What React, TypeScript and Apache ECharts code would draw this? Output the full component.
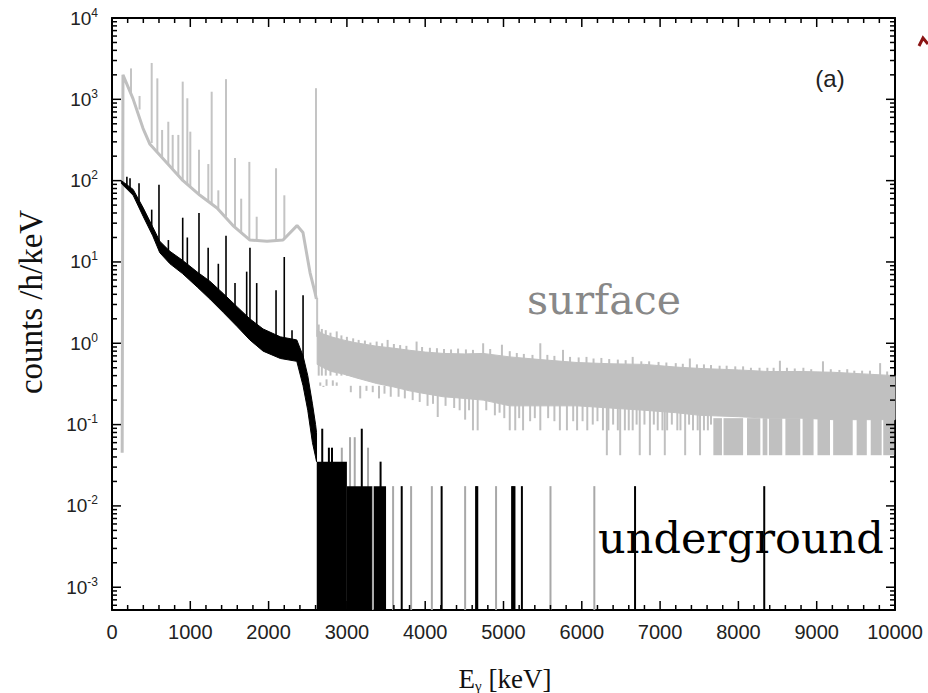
import { useEffect, useRef } from 'react';
import * as echarts from 'echarts';

// ---------- axes ----------
const X_LABELS = [0, 1000, 2000, 3000, 4000, 5000, 6000, 7000, 8000, 9000, 10000];
const X_MINOR_STEP = 200;
const Y_DECADES = [-3, -2, -1, 0, 1, 2, 3, 4];
const Y_MIN = -3.28;
const Y_MAX = 4;

// ---------- surface spectrum (grey) ----------
const surfContE = [130, 132, 140, 268, 396, 485, 702, 907, 1124, 1341, 1545, 1762, 1980, 2184, 2363, 2439, 2529, 2593, 2610];
const surfContV = [0.045, 0.045, 2000, 1020, 440, 280, 165, 100, 66, 46, 28, 18.6, 18, 18.6, 28, 23, 7.4, 4.2, 3.5];

// peaks: [energy, base, top]
const surfPeaks = [
  [243, 1150, 2400], [352, 750, 1100], [507, 290, 2800], [579, 230, 1810], [640, 190, 420],
  [719, 160, 530], [775, 140, 365], [847, 115, 365], [903, 100, 1650], [962, 90, 1030],
  [1000, 85, 400], [1111, 68, 240], [1230, 55, 160], [1273, 52, 1240], [1358, 45, 76],
  [1456, 36, 1770], [1571, 27, 190], [1650, 23, 60], [1754, 19, 170], [1848, 18, 36],
  [2095, 18, 142], [2201, 19, 66], [2605, 3.6, 1370], [2620, 1.2, 3.6],
];

// noise band above the 2614 keV line: envelope
const surfBandE = [2620, 2700, 2800, 2950, 3100, 3380, 3600, 3800, 4000, 4230, 4500, 4740, 5080, 5470, 5940, 6360, 6800, 7200, 7510, 8000, 8370, 8800, 9210, 9600, 10000];
const surfBandHi = [1.45, 1.3, 1.2, 1.1, 1.02, 0.92, 0.87, 0.82, 0.78, 0.75, 0.74, 0.75, 0.68, 0.63, 0.58, 0.56, 0.55, 0.51, 0.49, 0.47, 0.45, 0.45, 0.44, 0.42, 0.4];
const surfBandLo = [0.55, 0.5, 0.45, 0.42, 0.38, 0.32, 0.29, 0.26, 0.24, 0.22, 0.21, 0.2, 0.17, 0.17, 0.17, 0.16, 0.15, 0.14, 0.13, 0.125, 0.12, 0.12, 0.115, 0.115, 0.115];

// single channels sticking up out of the band: [energy, top]
const surfUpSpikes = [
  [2640, 1.7], [2680, 1.5], [2730, 1.45], [2790, 1.35], [2870, 1.4], [2930, 1.25], [3000, 1.2],
  [3080, 1.15], [3150, 1.1], [3230, 1.08], [3300, 1.02], [3380, 1.05], [3450, 1.0], [3520, 1.1],
  [3600, 0.98], [3680, 0.95], [3760, 0.93], [3890, 1.05], [3960, 0.9], [4060, 0.88], [4150, 0.87],
  [4240, 0.85], [4330, 0.84], [4420, 0.86], [4520, 0.84], [4610, 0.83], [4740, 1.0], [4830, 0.85],
  [4980, 0.96], [5080, 0.8], [5170, 0.76], [5260, 0.74], [5370, 0.72], [5470, 1.0], [5560, 0.72],
  [5650, 0.7], [5760, 0.83], [5850, 0.68], [5960, 0.67], [6060, 0.68], [6150, 0.65], [6250, 0.66],
  [6350, 0.64], [6460, 0.63], [6560, 0.62], [6650, 0.68], [6760, 0.6], [6860, 0.6], [6980, 0.59],
  [7080, 0.58], [7200, 0.57], [7290, 0.56], [7380, 0.65], [7470, 0.55], [7560, 0.55], [7650, 0.54],
  [7760, 0.53], [7850, 0.53], [7960, 0.52], [8060, 0.52], [8160, 0.5], [8270, 0.5], [8370, 0.5],
  [8450, 0.5], [8530, 0.61], [8620, 0.5], [8720, 0.49], [8830, 0.5], [8930, 0.48], [9080, 0.6],
  [9180, 0.48], [9290, 0.47], [9390, 0.48], [9480, 0.46], [9580, 0.46], [9680, 0.46], [9810, 0.57],
  [9900, 0.45],
];

// single channels dropping below the band: [energy, bottom]
const surfDownSpikes = [
  [2660, 0.33], [2700, 0.29], [2740, 0.36], [2780, 0.3], [2820, 0.35], [2870, 0.33], [2960, 0.3],
  [3050, 0.25], [3120, 0.3], [3170, 0.21], [3250, 0.26], [3330, 0.25], [3410, 0.21], [3480, 0.24],
  [3560, 0.22], [3660, 0.22], [3740, 0.21], [3840, 0.2], [3930, 0.19], [4030, 0.17], [4100, 0.18],
  [4160, 0.124], [4260, 0.17], [4370, 0.16], [4440, 0.15], [4510, 0.115], [4560, 0.15], [4610, 0.085],
  [4670, 0.085], [4780, 0.15], [4890, 0.13], [4950, 0.14], [5010, 0.12], [5080, 0.085], [5150, 0.085],
  [5200, 0.12], [5250, 0.085], [5340, 0.11], [5400, 0.12], [5470, 0.085], [5570, 0.12], [5650, 0.11],
  [5720, 0.085], [5810, 0.085], [5890, 0.11], [5940, 0.085], [6010, 0.11], [6070, 0.085], [6140, 0.1],
  [6200, 0.11], [6270, 0.085], [6320, 0.042], [6340, 0.085], [6400, 0.1], [6460, 0.085], [6490, 0.042],
  [6550, 0.085], [6600, 0.085], [6650, 0.085], [6700, 0.1], [6740, 0.042], [6800, 0.1], [6870, 0.042],
  [6920, 0.1], [6970, 0.085], [7030, 0.085], [7060, 0.042], [7090, 0.085], [7150, 0.1], [7220, 0.085],
  [7260, 0.085], [7320, 0.042], [7370, 0.1], [7420, 0.085], [7480, 0.085], [7510, 0.042], [7560, 0.085],
  [7610, 0.085], [7650, 0.1],
];

// energy ranges where most channels fall to the one-count floor: [from, to]
const surfFloorRanges = [
  [7680, 7790], [7810, 8060], [8110, 8280], [8310, 8370], [8390, 8560], [8600, 8790],
  [8820, 8960], [9010, 9170], [9210, 9460], [9510, 9640], [9690, 9830], [9850, 9990],
];
const surfFloorV = 0.042;
const surfFloorTop = 0.12;

// ---------- underground spectrum (black) ----------
const ugE = [120, 270, 400, 520, 610, 740, 900, 1090, 1250, 1420, 1600, 1760, 1930, 2150, 2360, 2440, 2500, 2560, 2600, 2612];
const ugHi = [100, 78, 46, 27, 18, 13.5, 10.5, 7.5, 5.8, 4.1, 2.8, 2.0, 1.5, 1.2, 1.1, 0.7, 0.4, 0.18, 0.1, 0.08];
const ugLo = [92, 66, 36, 21, 13, 9.5, 7.2, 4.9, 3.5, 2.4, 1.6, 1.1, 0.8, 0.65, 0.6, 0.3, 0.15, 0.06, 0.04, 0.035];

// peaks: [energy, base, top]
const ugPeaks = [
  [190, 85, 112], [230, 80, 107], [345, 55, 93], [507, 24, 44], [600, 16, 89], [720, 11, 18.6],
  [903, 8, 35], [962, 7, 20], [1111, 5.5, 40], [1228, 4.5, 15], [1358, 3.5, 9.5], [1456, 3, 21],
  [1571, 2.3, 5.5], [1720, 1.8, 7.6], [1762, 1.6, 15], [1848, 1.4, 5.5], [2095, 1.0, 4.5],
  [2200, 0.9, 11.5], [2299, 0.85, 1.45], [2440, 0.5, 3.9],
];

// filled regions at one/two counts: [from, to, level]
const ugBlocks = [[2615, 3000, 0.035], [3000, 3320, 0.0175], [3345, 3500, 0.0175]];
// single channels (from the bottom): [energy, level]
const ugLinesBlack = [
  [2685, 0.089], [2770, 0.052], [2810, 0.052], [3190, 0.089], [3430, 0.035], [3700, 0.0175],
  [4210, 0.0175], [4650, 0.0175], [4665, 0.0175], [5110, 0.0175], [5125, 0.0175], [5140, 0.0175],
  [5235, 0.0175], [6680, 0.0175], [8330, 0.0175],
];
const ugLinesGrey = [
  [2935, 0.052], [3040, 0.07], [3100, 0.07], [3270, 0.052], [3330, 0.0175], [3590, 0.0175],
  [3820, 0.0175], [4085, 0.0175], [4510, 0.0175], [4905, 0.0175], [5600, 0.0175], [6160, 0.0175],
];

const L = (v: number) => Math.log10(v);

// ---------- layout ----------
const W = 928, H = 693;
const GRID = { left: 112, right: 33, top: 18, bottom: 83 };
const X_MIN = X_LABELS[0];
const X_MAX = X_LABELS[X_LABELS.length - 1];
const MAJOR = 9, MINOR = 5;

const yMinor: number[] = [];
for (let n = -4; n < 4; n++) {
  for (let k = 2; k <= 9; k++) {
    const v = n + Math.log10(k);
    if (v > Y_MIN && v < Y_MAX) yMinor.push(v);
  }
}
const xMinor: number[] = [];
for (let e = X_MIN; e <= X_MAX; e += X_MINOR_STEP) {
  if (!X_LABELS.includes(e)) xMinor.push(e);
}

const SANS = '"Liberation Sans", Arial, sans-serif';
const SERIF = '"Liberation Serif", "Times New Roman", serif';
const WSERIF = '"DejaVu Serif", serif';

function segSeries(name: string, data: number[][], color: string, width: number, z = 2) {
  return {
    name,
    type: 'custom',
    z,
    encode: { x: 0, y: [1, 2] },
    data,
    renderItem: (_p: any, api: any) => {
      const e = api.value(0);
      const a = api.coord([e, api.value(1)]);
      const b = api.coord([e, api.value(2)]);
      return {
        type: 'line',
        shape: { x1: a[0], y1: a[1], x2: b[0], y2: b[1] },
        style: { stroke: color, lineWidth: width },
      };
    },
  };
}

function bandSeries(name: string, E: number[], hi: number[], lo: number[], color: string, z = 2) {
  return {
    name,
    type: 'custom',
    z,
    data: [[E[0], L(hi[0])]],
    renderItem: (_p: any, api: any) => {
      const pts: number[][] = [];
      for (let i = 0; i < E.length; i++) pts.push(api.coord([E[i], L(hi[i])]));
      for (let i = E.length - 1; i >= 0; i--) pts.push(api.coord([E[i], L(lo[i])]));
      return {
        type: 'polygon',
        shape: { points: pts },
        style: { fill: color, stroke: color, lineWidth: 1 },
      };
    },
  };
}

function rectSeries(name: string, data: number[][], color: string, z = 2) {
  return {
    name,
    type: 'custom',
    z,
    encode: { x: [0, 1], y: [2, 3] },
    data,
    renderItem: (_p: any, api: any) => {
      const a = api.coord([api.value(0), api.value(3)]);
      const b = api.coord([api.value(1), api.value(2)]);
      return {
        type: 'rect',
        shape: { x: a[0], y: a[1], width: b[0] - a[0], height: b[1] - a[1] },
        style: { fill: color },
      };
    },
  };
}

const GREY = '#c0c0c0';
const AXLINE = { show: true, onZero: false, lineStyle: { color: '#000', width: 2 } };

const textGraphics: any[] = [
  {
    type: 'text', x: 31, y: 302, rotation: Math.PI / 2, z: 10,
    style: { text: 'counts /h/keV', fontSize: 33, fontFamily: SERIF, fill: '#111', align: 'center', verticalAlign: 'middle' },
  },
  {
    type: 'text', x: 505, y: 679, z: 10,
    style: {
      text: '{e|E}{g|γ}{e| [keV]}', align: 'center', verticalAlign: 'middle',
      rich: {
        e: { fontSize: 27, fontFamily: SERIF, fill: '#111' },
        g: { fontSize: 15, fontFamily: SERIF, fill: '#111', padding: [14, 0, 0, 0] },
      },
    },
  },
  {
    type: 'text', x: 830, y: 78, z: 10,
    style: { text: '(a)', fontSize: 24, fontFamily: SANS, fill: '#222', align: 'center', verticalAlign: 'middle' },
  },
  {
    type: 'text', x: 527, y: 300, z: 10,
    style: { text: 'surface', fontSize: 41, fontFamily: WSERIF, fill: '#888', align: 'left', verticalAlign: 'middle' },
  },
  {
    type: 'text', x: 598, y: 538, z: 10,
    style: { text: 'underground', fontSize: 43, fontFamily: WSERIF, fill: '#000', align: 'left', verticalAlign: 'middle' },
  },
  {
    type: 'polyline', z: 10,
    shape: { points: [[919, 46], [923, 38], [928, 44]] },
    style: { stroke: '#8b1414', lineWidth: 3, fill: 'none' },
  },
];

const option: any = {
  animation: false,
  grid: GRID,
  xAxis: [
    {
      type: 'value', position: 'bottom', min: X_MIN, max: X_MAX, interval: 1000,
      axisLine: AXLINE,
      axisTick: { show: false },
      axisLabel: {
        show: true, margin: 12, fontSize: 20, color: '#222', fontFamily: SANS,
        formatter: (v: number) => (X_LABELS.includes(v) ? String(v) : ''),
      },
      splitLine: { show: false },
    },
    {
      type: 'value', position: 'top', min: X_MIN, max: X_MAX, interval: 1000,
      axisLine: AXLINE,
      axisTick: { show: false },
      axisLabel: { show: false },
      splitLine: { show: false },
    },
  ],
  yAxis: [
    {
      type: 'value', position: 'left', min: Y_MIN, max: Y_MAX,
      axisLine: AXLINE,
      axisTick: { show: false },
      axisLabel: {
        show: true, margin: 14, customValues: Y_DECADES,
        formatter: (v: number) => `{b|10}{s|${Math.round(v)}}`,
        rich: {
          b: { fontSize: 19, fontFamily: SANS, color: '#222' },
          s: { fontSize: 12, fontFamily: SANS, color: '#222', padding: [0, 0, 11, 0] },
        },
      },
      splitLine: { show: false },
    },
    {
      type: 'value', position: 'right', min: Y_MIN, max: Y_MAX,
      axisLine: AXLINE,
      axisTick: { show: false },
      axisLabel: { show: false },
      splitLine: { show: false },
    },
  ],
  series: [
    {
      name: 'surface continuum', type: 'line', z: 2, showSymbol: false, symbol: 'none',
      lineStyle: { color: GREY, width: 3 },
      data: surfContE.map((e, i) => [e, L(surfContV[i])]),
    },
    segSeries('surface peaks', surfPeaks.map(([e, b, t]) => [e, L(b), L(t)]), '#c4c4c4', 2),
    bandSeries('surface band', surfBandE, surfBandHi, surfBandLo, GREY),
    segSeries('surface up', surfUpSpikes.map(([e, t]) => [e, L(0.4), L(t)]), GREY, 2),
    segSeries('surface down', surfDownSpikes.map(([e, b]) => [e, L(b), L(0.3)]), GREY, 2),
    rectSeries('surface floor', surfFloorRanges.map(([a, b]) => [a, b, L(surfFloorV), L(surfFloorTop)]), GREY),
    segSeries('underground grey channels', ugLinesGrey.map(([e, t]) => [e, Y_MIN, L(t)]), '#a8a8a8', 2, 3),
    bandSeries('underground band', ugE, ugHi, ugLo, '#000', 4),
    segSeries('underground peaks', ugPeaks.map(([e, b, t]) => [e, L(b), L(t)]), '#000', 1.6, 4),
    rectSeries('underground blocks', ugBlocks.map(([a, b, t]) => [a, b, Y_MIN, L(t)]), '#000', 4),
    segSeries('underground channels', ugLinesBlack.map(([e, t]) => [e, Y_MIN, L(t)]), '#000', 2, 4),
  ],
  graphic: textGraphics,
};

// inward ticks on all four sides, placed through the chart's own scales
function buildTicks(chart: any): any[] {
  const px = (x: number, y: number) => chart.convertToPixel({ xAxisIndex: 0, yAxisIndex: 0 }, [x, y]);
  const out: any[] = [];
  const seg = (x1: number, y1: number, x2: number, y2: number) => {
    out.push({
      type: 'polyline', z: 9, silent: true,
      shape: { points: [[x1, y1], [x2, y2]] },
      style: { stroke: '#000', lineWidth: 1.5, fill: 'none' },
    });
  };
  const xt = (e: number, len: number) => {
    const b = px(e, Y_MIN);
    const t = px(e, Y_MAX);
    seg(b[0], b[1], b[0], b[1] - len);
    seg(t[0], t[1], t[0], t[1] + len);
  };
  const yt = (v: number, len: number) => {
    const l = px(X_MIN, v);
    const r = px(X_MAX, v);
    seg(l[0], l[1], l[0] + len, l[1]);
    seg(r[0], r[1], r[0] - len, r[1]);
  };
  X_LABELS.forEach((e) => xt(e, MAJOR));
  xMinor.forEach((e) => xt(e, MINOR));
  Y_DECADES.forEach((v) => yt(v, MAJOR));
  yMinor.forEach((v) => yt(v, MINOR));
  return out;
}

export default function App() {
  const ref = useRef<HTMLDivElement>(null);
  useEffect(() => {
    if (!ref.current) return;
    const chart = echarts.init(ref.current, null, { renderer: 'svg' });
    chart.setOption(option);
    const ticks = buildTicks(chart);
    chart.setOption({ graphic: [...textGraphics, ...ticks] });
    return () => chart.dispose();
  }, []);
  return (
    <div
      ref={ref}
      style={{ position: 'fixed', left: 0, top: 0, width: W, height: H, background: '#fff' }}
    />
  );
}
